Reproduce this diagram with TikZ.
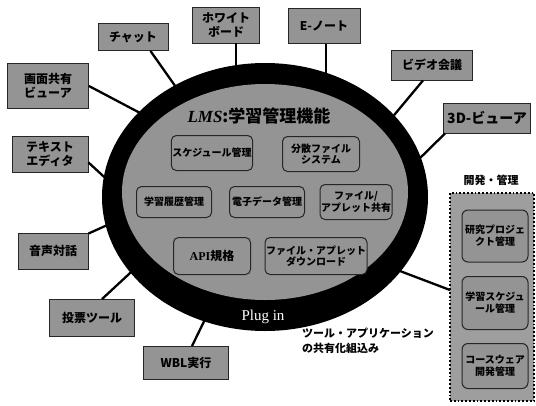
\documentclass[tikz,border=0pt]{standalone}
\usepackage{fontspec}
\setmainfont{Noto Sans CJK JP}
\newfontfamily\serifl{Liberation Serif}
\begin{document}
\begin{tikzpicture}[x=1pt,y=-1pt,
  obox/.style={draw=black!85, line width=0.9pt, fill=black!42, align=center, inner sep=1pt,
     font=\bfseries\fontsize{12}{13.5}\selectfont},
  ibox/.style={draw=black!85, line width=1pt, rounded corners=5pt, fill=black!42, align=center, inner sep=1pt,
     font=\bfseries\fontsize{10}{11.5}\selectfont},
  rbox/.style={draw=black!85, line width=1pt, rounded corners=6pt, fill=black!42, align=center, inner sep=1pt,
     font=\bfseries\fontsize{10}{12}\selectfont, minimum width=66pt},
  conn/.style={line width=2.3pt, black}]
\useasboundingbox (0,0) rectangle (536,405);

% outer tool boxes
\node[obox, minimum width=70pt, minimum height=27pt] (chat) at (133,37) {チャット};
\node[obox, minimum width=67pt, minimum height=36pt] (wb) at (226,25) {ホワイト\\ボード};
\node[obox, minimum width=72pt, minimum height=35pt] (en) at (324,26) {E-ノート};
\node[obox, minimum width=81pt, minimum height=30pt] (vid) at (432,65) {ビデオ会議};
\node[obox, minimum width=87pt, minimum height=30pt, font=\bfseries\fontsize{14}{15}\selectfont] (td) at (487,118) {3D-ビューア};
\node[obox, minimum width=81pt, minimum height=45pt] (scr) at (48,86) {画面共有\\ビューア};
\node[obox, minimum width=76pt, minimum height=36pt] (ted) at (50,154) {テキスト\\エディタ};
\node[obox, minimum width=70pt, minimum height=36pt] (voice) at (53,251) {音声対話};
\node[obox, minimum width=85pt, minimum height=37pt] (vote) at (92,318) {投票ツール};
\node[obox, minimum width=85pt, minimum height=33pt] (wbl) at (186,363) {WBL実行};

% ellipse attachment points
\coordinate (e1) at (178,90);
\coordinate (e2) at (142,114);
\coordinate (e3) at (236,76);
\coordinate (e4) at (326,76);
\coordinate (e5) at (390,120);
\coordinate (e6) at (416,162);
\coordinate (e7) at (114,186);
\coordinate (e8) at (114,222);
\coordinate (e9) at (142,262);
\coordinate (e10) at (212,305);
\coordinate (e11) at (392,268);

% dev group
\node[draw=black, line width=2.4pt, dash pattern=on 1.8pt off 2pt, fill=black!38,
      minimum width=84pt, minimum height=208pt, inner sep=0pt] (dev) at (492,297) {};
\node[font=\bfseries\fontsize{11}{12}\selectfont] (devlab) at (491,180) {開発・管理};
\coordinate (e12) at (450,290);

% connectors
\draw[conn] (chat.south east) ++(-18,0) coordinate (c1) -- (e1);
\draw[conn] (scr.east) -- (e2);
\draw[conn] (wb.south) ++(10,0) coordinate (c3) -- (e3);
\draw[conn] (en.south) ++(2,0) coordinate (c4) -- (e4);
\draw[conn] (vid.south) ++(-9,0) coordinate (c5) -- (e5);
\draw[conn] (td.south west) ++(2,0) coordinate (c6) -- (e6);
\draw[conn] (ted.south east) ++(0,-10) coordinate (c7) -- (e7);
\draw[conn] (voice.north east) ++(0,1) coordinate (c8) -- (e8);
\draw[conn] (vote.north) ++(10,0) coordinate (c9) -- (e9);
\draw[conn] (wbl.north) ++(6,0) coordinate (c10) -- (e10);
\draw[conn] (e12) -- (e11);

% LMS ellipse
\fill[black] (265,197) ellipse [x radius=163, y radius=134];
\fill[black!42] (265,192) ellipse [x radius=143, y radius=108];

\node[font=\bfseries\itshape\fontsize{17}{18}\selectfont] (title) at (259,116) {{\serifl LMS}:学習管理機能};

\node[ibox, minimum width=77pt, minimum height=35pt] (i1) at (212,153) {スケジュール管理};
\node[ibox, minimum width=77pt, minimum height=35pt] (i2) at (321,154) {分散ファイル\\システム};
\node[ibox, minimum width=75pt, minimum height=31pt] (i3) at (174,202) {学習履歴管理};
\node[ibox, minimum width=75pt, minimum height=31pt] (i4) at (267,202) {電子データ管理};
\node[ibox, minimum width=72pt, minimum height=35pt] (i5) at (356,202) {ファイル/\\アプレット共有};
\node[ibox, minimum width=77pt, minimum height=37pt, font=\bfseries\fontsize{12}{13}\selectfont] (i6) at (212,256) {{\serifl API}規格};
\node[ibox, minimum width=87pt, minimum height=37pt] (i7) at (316,256) {ファイル・アプレット\\ダウンロード};

\node[text=white, font=\serifl\fontsize{15}{16}\selectfont] (plug) at (263,317) {Plug in};

\node[align=left, anchor=north west, font=\bfseries\fontsize{11}{15}\selectfont, inner sep=0pt] (note) at (302,328) {ツール・アプリケーション\\の共有化組込み};

% dev group boxes
\node[rbox, minimum height=52pt] (r1) at (495,236) {研究プロジェ\\クト管理};
\node[rbox, minimum height=53pt] (r2) at (495,303) {学習スケジュ\\ール管理};
\node[rbox, minimum height=45pt] (r3) at (495,366) {コースウェア\\開発管理};
\end{tikzpicture}
\end{document}
